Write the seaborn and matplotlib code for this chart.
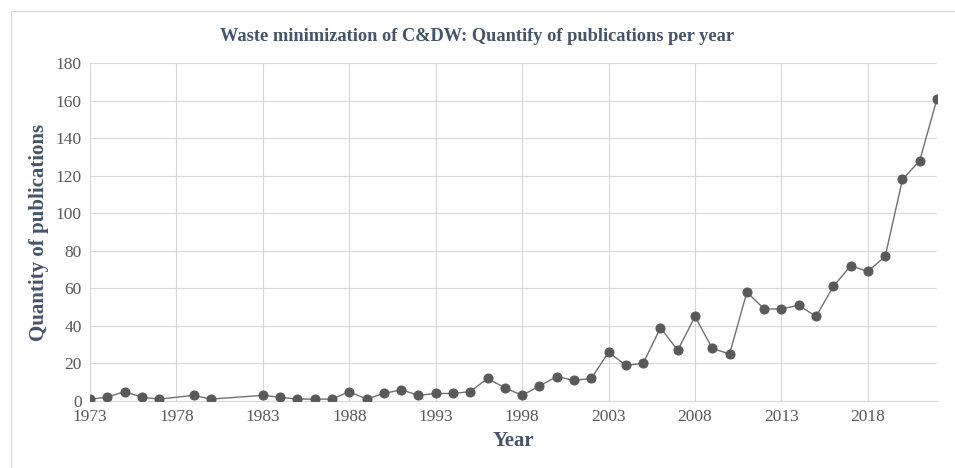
import pandas as pd
import seaborn as sns
import matplotlib.pyplot as plt
from matplotlib.patches import Rectangle

years = [1973, 1974, 1975, 1976, 1977, 1979, 1980, 1983, 1984, 1985, 1986, 1987,
         1988, 1989, 1990, 1991, 1992, 1993, 1994, 1995, 1996, 1997, 1998, 1999,
         2000, 2001, 2002, 2003, 2004, 2005, 2006, 2007, 2008, 2009, 2010, 2011,
         2012, 2013, 2014, 2015, 2016, 2017, 2018, 2019, 2020, 2021, 2022]
publications = [1, 2, 5, 2, 1, 3, 1, 3, 2, 1, 1, 1,
                5, 1, 4, 6, 3, 4, 4, 5, 12, 7, 3, 8,
                13, 11, 12, 26, 19, 20, 39, 27, 45, 28, 25, 58,
                49, 49, 51, 45, 61, 72, 69, 77, 118, 128, 161]
x_ticks = [1973, 1978, 1983, 1988, 1993, 1998, 2003, 2008, 2013, 2018]
y_ticks = list(range(0, 181, 20))

df = pd.DataFrame({"Year": years, "Publications": publications})

sns.set_style("white")
plt.rcParams['font.family'] = ['Liberation Serif', 'DejaVu Serif']

title_col = "#44546A"
tick_col = "#595959"
grid_col = "#D9D9D9"

fig = plt.figure(figsize=(9.55, 4.68), dpi=100)
ax = fig.add_axes([0.0942, 0.1432, 0.887, 0.7222])

sns.lineplot(data=df, x="Year", y="Publications", ax=ax, color="#707070",
             linewidth=1.0, marker="o", markersize=6.5,
             markerfacecolor="#595959", markeredgecolor="#595959", zorder=3)

ax.set_xlim(1973, 2022)
ax.set_ylim(0, 180)
ax.set_xticks(x_ticks)
ax.set_yticks(y_ticks)
ax.grid(True, color=grid_col, linewidth=0.8)
ax.tick_params(length=0, labelsize=12.5, labelcolor=tick_col, pad=6)

for s in ["top", "right"]:
    ax.spines[s].set_visible(False)
for s in ["left", "bottom"]:
    ax.spines[s].set_color(grid_col)
    ax.spines[s].set_linewidth(0.8)

ax.set_xlabel("Year", fontsize=15, fontweight="bold", color=title_col, labelpad=4)
ax.set_ylabel("Quantity of publications", fontsize=15, fontweight="bold",
              color=title_col, labelpad=5)
fig.text(0.5, 0.921, "Waste minimization of C&DW: Quantify of publications per year",
         ha="center", va="center", fontsize=13.2, fontweight="bold", color=title_col)

# light frame around the chart area
fig.patches.append(Rectangle((11 / 955, -0.1), 1.0, 1.1 - 11 / 468,
                             transform=fig.transFigure, fill=False,
                             edgecolor="#D9D9D9", linewidth=0.8))

plt.savefig("out.png", dpi=100)
plt.close()
